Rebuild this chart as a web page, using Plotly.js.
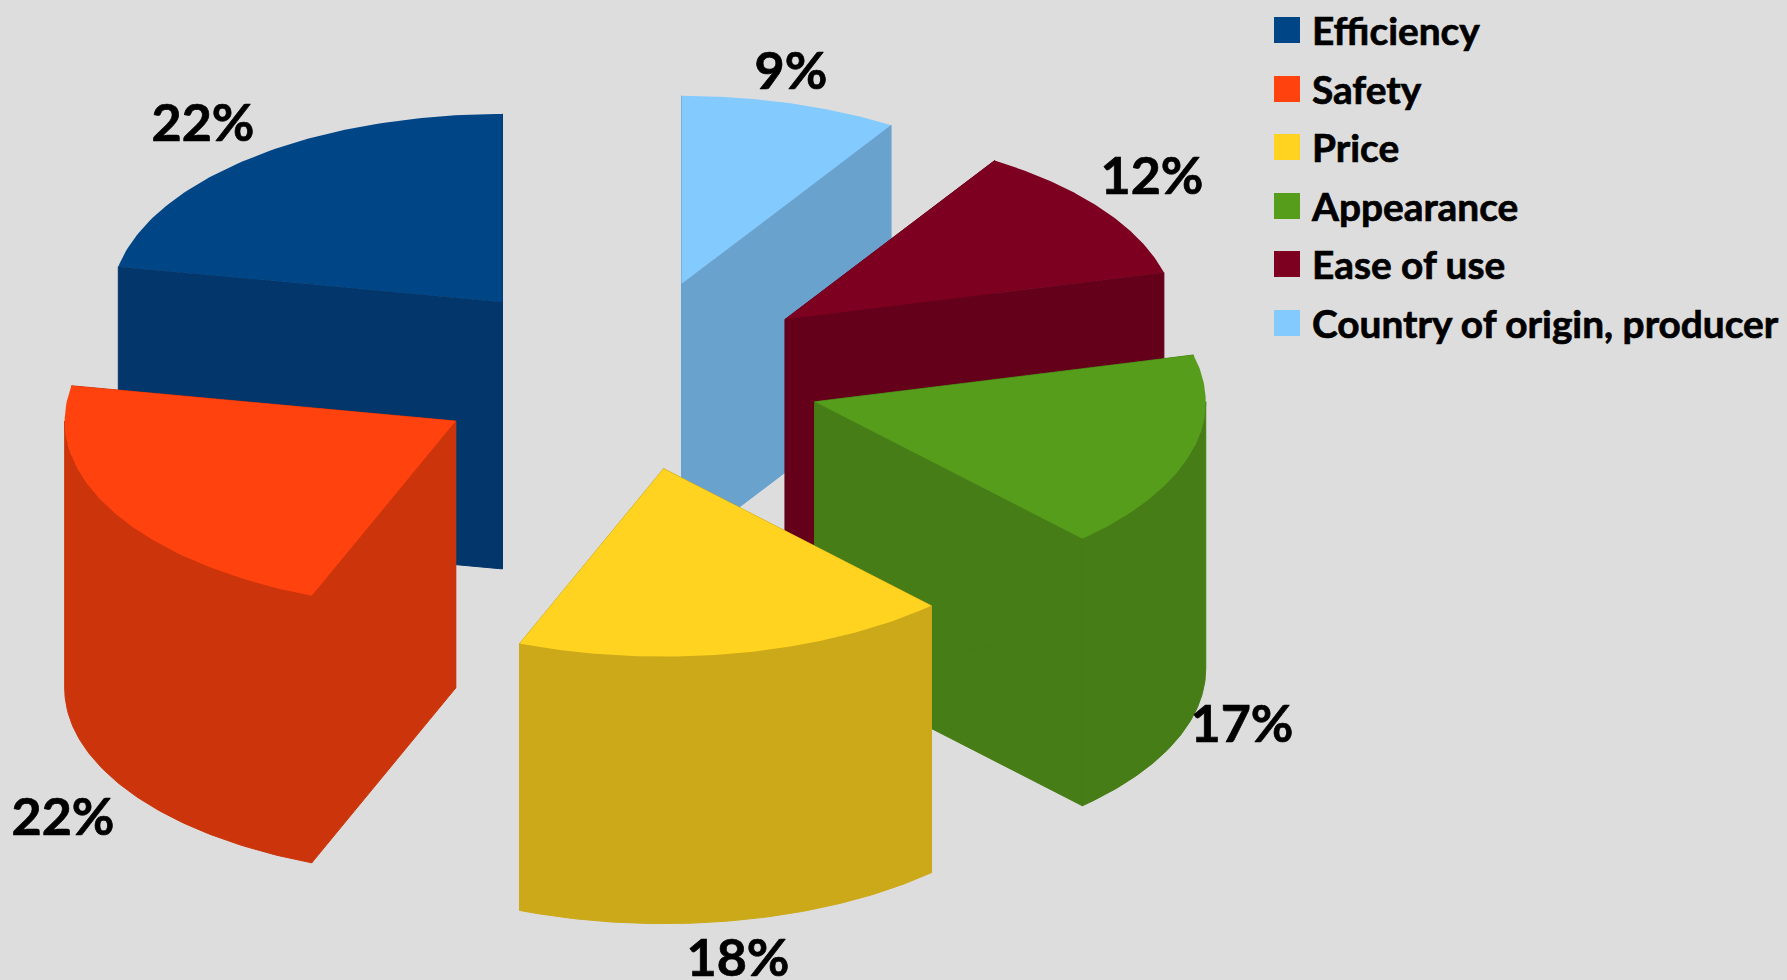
<!DOCTYPE html>
<html>
<head>
<meta charset="utf-8">
<script src="https://cdn.plot.ly/plotly-3.0.1.min.js"></script>
<style>
html,body{margin:0;padding:0;background:#dddddd;overflow:hidden}
#chart{width:1787px;height:980px}
#chart .textpoint text{stroke:#000000;stroke-width:0.7px}
</style>
</head>
<body>
<div id="chart"></div>
<script>
// Chart data
const categories = ["Efficiency", "Safety", "Price", "Appearance", "Ease of use", "Country of origin, producer"];
const shares = [22, 22, 18, 17, 12, 9];

// Styles
const topColors = ["#004586", "#ff420e", "#ffd320", "#579d1c", "#7e0021", "#83caff"];
const sideColors = ["#03376b", "#cc350b", "#cca919", "#467d16", "#65001a", "#6aa2ce"];
const paintOrder = [0, 5, 4, 3, 1, 2];

// Projection of the exploded pie onto the page
const centre = {x: 627, y: 375.2};
const radius = {x: 391, y: 188};
const explode = {x: 0.5, y: 0.506};
const depth = 267;
const startAngle = 90;

// Layout of the text
const labelPos = {x: [203, 63, 738, 1242, 1152, 791], y: [128, 822, 963, 729, 181, 76]};
const legendMarkerX = 1287, legendTextX = 1312;
const legendRowY = [30, 89, 147, 206, 264, 323];
const legendTextY = [35, 94, 152, 211, 269, 328];
const FONT = "Lato, 'Open Sans', sans-serif";

const total = shares.reduce((a, b) => a + b, 0);
const rad = d => d * Math.PI / 180;
let running = startAngle;
const slices = shares.map(v => {
  const a0 = running, a1 = running + v / total * 360;
  running = a1;
  const mid = rad((a0 + a1) / 2);
  return {a0, a1,
    ax: centre.x + explode.x * radius.x * Math.cos(mid),
    ay: centre.y - explode.y * radius.y * Math.sin(mid)};
});

function arcPoints(s, a0, a1) {
  const pts = [], n = 80;
  for (let i = 0; i <= n; i++) {
    const a = rad(a0 + (a1 - a0) * i / n);
    pts.push([s.ax + radius.x * Math.cos(a), s.ay - radius.y * Math.sin(a)]);
  }
  return pts;
}

const traces = [];
function poly(color, ring, lineWidth) {
  const closed = ring.concat([ring[0]]);
  traces.push({type: "scatter", mode: "lines",
    x: closed.map(p => p[0]), y: closed.map(p => p[1]),
    fill: "toself", fillcolor: color,
    line: {width: lineWidth, color}, hoverinfo: "skip", showlegend: false});
}

paintOrder.forEach(i => {
  const s = slices[i], arc = arcPoints(s, s.a0, s.a1);
  const down = p => [p[0], p[1] + depth];
  const apex = [s.ax, s.ay], first = arc[0], last = arc[arc.length - 1];
  poly(sideColors[i], [apex, first, down(first), down(apex)], 1);
  poly(sideColors[i], [apex, last, down(last), down(apex)], 1);
  // The rim is visible only on the front half of the ellipse
  const frontStart = Math.max(s.a0, 180), frontEnd = Math.min(s.a1, 360);
  if (frontEnd > frontStart) {
    const rim = arcPoints(s, frontStart, frontEnd);
    poly(sideColors[i], rim.concat(rim.slice().reverse().map(down)), 1);
  }
  poly(topColors[i], [apex].concat(arc), 0);
});

traces.push({type: "scatter", mode: "text", x: labelPos.x, y: labelPos.y,
  text: shares.map(v => v + "%"), textposition: "middle center",
  textfont: {family: FONT, size: 52, color: "#000000", weight: 700},
  hoverinfo: "skip", showlegend: false});
traces.push({type: "scatter", mode: "markers", x: categories.map(() => legendMarkerX), y: legendRowY,
  marker: {symbol: "square", size: 26, color: topColors, line: {width: 0}},
  hoverinfo: "skip", showlegend: false});
traces.push({type: "scatter", mode: "text", x: categories.map(() => legendTextX), y: legendTextY,
  text: categories, textposition: "middle right",
  textfont: {family: FONT, size: 38.8, color: "#000000", weight: 700},
  hoverinfo: "skip", showlegend: false});

const layout = {
  width: 1787, height: 980, autosize: false,
  margin: {l: 0, r: 0, t: 0, b: 0},
  paper_bgcolor: "#dddddd", plot_bgcolor: "#dddddd",
  xaxis: {range: [0, 1787], visible: false, fixedrange: true},
  yaxis: {range: [980, 0], visible: false, fixedrange: true},
  showlegend: false, hovermode: false
};
Plotly.newPlot("chart", traces, layout, {displayModeBar: false, staticPlot: true});
</script>
</body>
</html>
